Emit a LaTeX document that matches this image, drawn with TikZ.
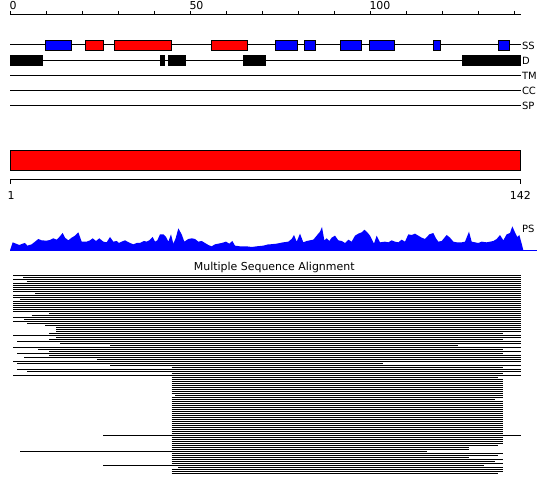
\documentclass[tikz,border=0pt]{standalone}
\usepackage{fontspec}
\setmainfont{DejaVu Sans}
\begin{document}
\begin{tikzpicture}[x=1bp,y=-1bp,line width=1bp,
  lab/.style={anchor=base west,inner sep=0pt,font=\fontsize{10}{12}\selectfont},
  num/.style={inner sep=0pt,font=\fontsize{11}{13}\selectfont},
  trackbox/.style={draw=black,line width=0.8bp},
  msaline/.style={line width=1.3bp}]
\useasboundingbox (0,0) rectangle (550,495);
\fill[white] (0,0) rectangle (550,495);
% top ruler
\draw (10,15) -- (520.7,15);
\foreach \i in {0,...,14} \draw (10+36*\i,11) -- (10+36*\i,15);
\node[num,anchor=base west] (r0) at (9,10) {0};
\node[num,anchor=base west] (r50) at (189,10) {50};
\node[num,anchor=base west] (r100) at (369,10) {100};
% tracks
\foreach \y/\t in {45/SS,60.3/D,75.5/TM,90.5/CC,105.5/SP}{
  \draw (10,\y) -- (520.7,\y);
  \node[lab] (lab\t) at (521.5,\y+4.5) {\t};
}
\foreach \a/\b/\c in {45.3/71.7/blue,85.3/103.7/red,114.3/171.7/red,211.3/247.7/red,275/297.7/blue,304.3/315.7/blue,340.3/361.7/blue,369.3/394.7/blue,433/440.7/blue,498.3/509.7/blue}
  \draw[trackbox,fill=\c] (\a,40.3) rectangle (\b,50.3);
\foreach \a/\b in {10/42.7,160/164.7,168/185.7,243/265.7,462/520.7}
  \draw[trackbox,fill=black] (\a,55) rectangle (\b,65.7);
% red domain bar
\draw[trackbox,fill=red] (10,150.3) rectangle (520.7,170.3);
\draw (10,184) -- (10,180) -- (520.7,180) -- (520.7,184);
\node[num,anchor=base] (b1) at (11,200) {1};
\node[num,anchor=base] (b142) at (520.3,200) {142};
% PS profile
\begin{scope}[shift={(0,145)},scale=1/3]
\fill[blue] (30,316) -- (38,292) -- (48,296) -- (58,300) -- (68,296) -- (75,294) -- (82,302) -- (95,298) -- (105,290) -- (115,282) -- (125,286) -- (140,287) -- (150,285) -- (160,280) -- (170,284) -- (178,276) -- (188,264) -- (195,278) -- (205,286) -- (215,278) -- (225,272) -- (235,262) -- (245,290) -- (260,290) -- (270,286) -- (278,280) -- (288,288) -- (298,280) -- (310,290) -- (320,292) -- (330,276) -- (340,290) -- (350,288) -- (357,294) -- (365,290) -- (375,286) -- (390,294) -- (400,298) -- (410,294) -- (420,294) -- (432,288) -- (440,290) -- (448,286) -- (458,276) -- (465,290) -- (472,286) -- (480,268) -- (490,268) -- (498,276) -- (505,290) -- (513,268) -- (520,296) -- (527,280) -- (535,250) -- (545,268) -- (553,290) -- (565,282) -- (575,280) -- (585,282) -- (595,290) -- (605,288) -- (615,294) -- (625,300) -- (635,304) -- (645,298) -- (655,296) -- (665,294) -- (678,290) -- (688,296) -- (697,288) -- (705,302) -- (720,304) -- (740,304) -- (755,306) -- (770,304) -- (790,302) -- (805,298) -- (810,298) -- (830,296) -- (850,292) -- (865,290) -- (875,282) -- (882,270) -- (890,290) -- (900,266) -- (910,292) -- (920,288) -- (930,286) -- (940,284) -- (950,272) -- (960,260) -- (966,246) -- (973,286) -- (980,280) -- (988,288) -- (995,278) -- (1005,272) -- (1015,286) -- (1025,288) -- (1035,294) -- (1045,284) -- (1055,290) -- (1065,272) -- (1075,266) -- (1085,262) -- (1093,254) -- (1102,262) -- (1110,272) -- (1122,296) -- (1130,272) -- (1140,292) -- (1155,290) -- (1165,292) -- (1175,286) -- (1185,290) -- (1195,292) -- (1205,284) -- (1215,290) -- (1225,268) -- (1235,270) -- (1245,266) -- (1255,272) -- (1265,278) -- (1275,282) -- (1288,268) -- (1300,264) -- (1308,280) -- (1315,290) -- (1325,288) -- (1340,270) -- (1350,278) -- (1360,290) -- (1370,292) -- (1385,292) -- (1395,290) -- (1407,260) -- (1415,290) -- (1425,292) -- (1435,294) -- (1445,290) -- (1460,292) -- (1470,290) -- (1480,288) -- (1490,282) -- (1500,270) -- (1510,286) -- (1520,268) -- (1530,264) -- (1537,244) -- (1545,262) -- (1552,276) -- (1558,270) -- (1565,296) -- (1570,316) -- cycle;
\draw[blue] (30,316) -- (1611,316);
\end{scope}
\node[lab] (labPS) at (521.5,232) {PS};
% MSA
\node[num,anchor=base] (msatitle) at (274.2,270) {Multiple Sequence Alignment};
\foreach \k/\s/\e in {0/13.3/520.7,1/23.3/520.7,2/13.3/520.7,3/26.7/520.7,4/13.3/520.7,5/13.3/520.7,6/13.3/520.7,7/13.3/520.7,8/13.3/520.7,9/35/520.7,
10/13.3/520.7,11/13.3/520.7,12/20/520.7,13/13.3/520.7,14/13.3/520.7,15/13.3/520.7,16/13.3/520.7,17/13.3/520.7,18/13.3/520.7,19/49.3/520.7,
20/31.7/520.7,21/13.3/520.7,22/24/520.7,23/13.3/520.7,24/27.3/520.7,25/45/520.7,26/56/520.7,27/56/520.7,28/56/520.7,29/49.3/502.7,
30/13.3/520.7,31/56/520.7,32/49.3/502.7,33/17.3/520.7,34/60/520.7,35/110/458,36/13.3/520.7,37/38.3/502.7,38/49.3/520.7,39/17.3/502.7,
40/49.3/520.7,41/24/520.7,42/96.7/520.7,43/13.3/520.7,44/17.3/383,45/110/520.7,46/171.7/502.7,47/17.3/520.7,48/27.3/520.7,49/171.7/502.7,
50/13.3/520.7,51/171.7/498.3,52/171.7/502.7,53/171.7/502.7,54/171.7/502.7,55/171.7/502.7,56/171.7/502.7,57/171.7/502.7,58/171.7/502.7,59/171.7/502.7,
60/175/502.7,61/171.7/502.7,62/171.7/495,63/171.7/502.7,64/171.7/502.7,65/171.7/502.7,66/171.7/502.7,67/171.7/502.7,68/171.7/502.7,69/171.7/502.7,
70/171.7/502.7,71/171.7/502.7,72/171.7/502.7,73/171.7/502.7,74/171.7/502.7,75/171.7/502.7,76/171.7/502.7,77/171.7/502.7,78/171.7/502.7,79/171.7/502.7,
80/103.3/520.7,81/171.7/502.7,82/171.7/502.7,83/171.7/502.7,84/171.7/502.7,85/171.7/498.3,86/171.7/469.3,87/171.7/469.3,88/20/426.7,89/171.7/502.7,
90/171.7/498.3,91/171.7/469.3,92/171.7/502.7,93/171.7/495,94/171.7/502.7,95/103.3/484.3,96/178/502.7,97/171.7/502.7,98/171.7/502.7,99/171.7/498.3}
  \draw[msaline] (\s,275.5+2*\k) -- (\e,275.5+2*\k);
\end{tikzpicture}
\end{document}
